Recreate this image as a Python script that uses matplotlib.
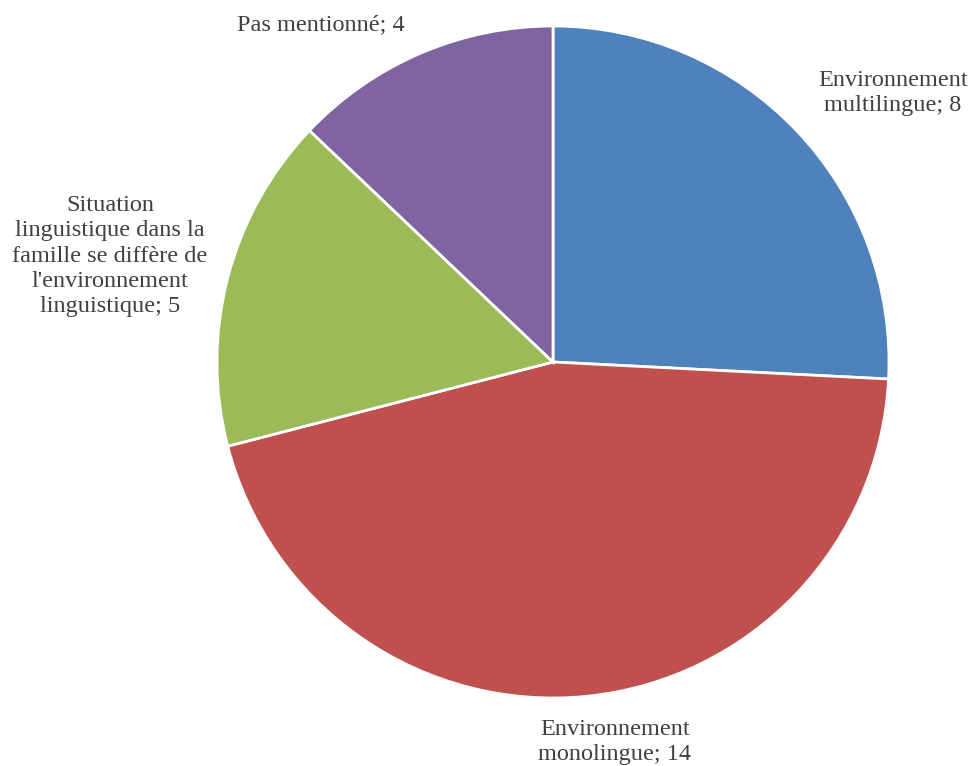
import matplotlib
matplotlib.use("Agg")
import matplotlib.pyplot as plt

categories = ["Environnement\nmultilingue", "Environnement\nmonolingue",
              "Situation\nlinguistique dans la\nfamille se diffère de\nl'environnement\nlinguistique",
              "Pas mentionné"]
values = [8, 14, 5, 4]
colors = ["#4F81BD", "#C0504D", "#9BBB59", "#8064A2"]

W, H = 970, 766
fig = plt.figure(figsize=(W / 100, H / 100), dpi=100)
cx, cy, r = 553, 362, 336
ax = fig.add_axes([(cx - r) / W, (H - cy - r) / H, 2 * r / W, 2 * r / H])
ax.pie(values, colors=colors, startangle=90, counterclock=False, radius=1,
       wedgeprops=dict(edgecolor="white", linewidth=2))
ax.set_xlim(-1.0, 1.0)
ax.set_ylim(-1.0, 1.0)
ax.set_aspect("equal")
ax.axis("off")

label_pos = [(893, 93), (615, 742), (110, 256), (321, 25)]
for cat, v, (px, py) in zip(categories, values, label_pos):
    fig.text(px / W, 1 - py / H, f"{cat}; {v}", ha="center", va="center",
             family="Liberation Serif", fontsize=17.5, color="#404040",
             linespacing=1.27)

fig.savefig("out.png", dpi=100)
